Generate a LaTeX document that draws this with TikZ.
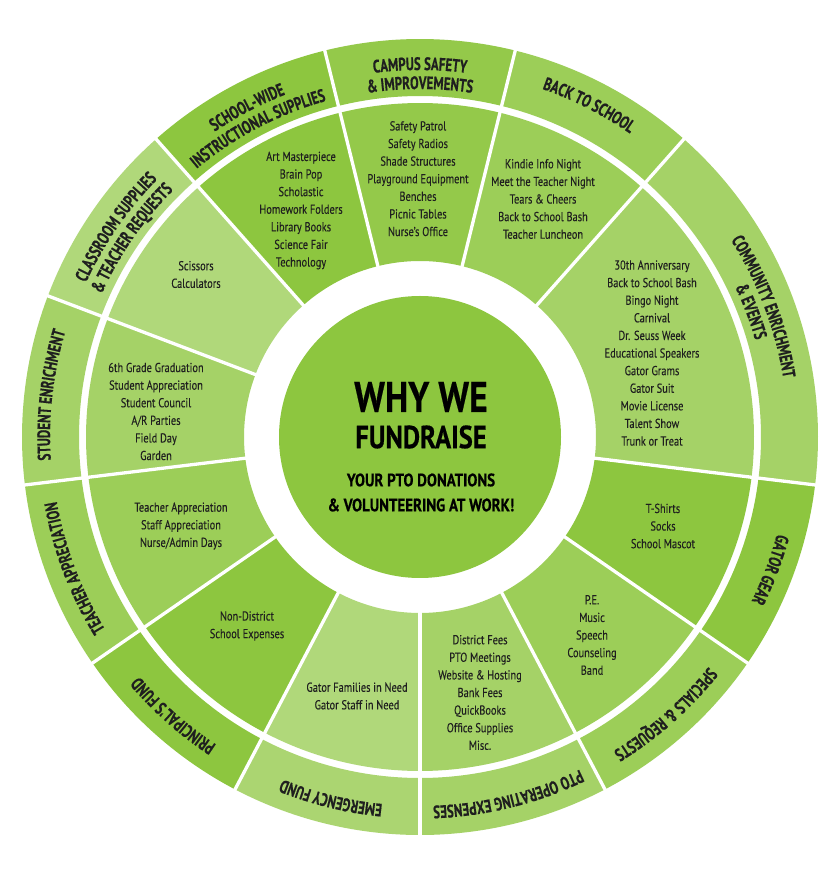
\documentclass[tikz,border=0pt]{standalone}
\usepackage{fontspec}
\usetikzlibrary{decorations.text}
\newfontfamily\listfont[FakeStretch=0.8,FakeBold=0.15]{PT Sans}
\newfontfamily\headfont[FakeStretch=0.71,BoldFeatures={FakeBold=0.45}]{PT Sans}
\newfontfamily\midfont[FakeStretch=0.83,BoldFeatures={FakeBold=0.4}]{PT Sans}
\definecolor{G}{RGB}{141,198,63}
\colorlet{g100}{G}
\colorlet{g95}{G!94!white}
\colorlet{g90}{G!87!white}
\colorlet{g80}{G!79!white}
\colorlet{g75}{G!74!white}
\colorlet{g70}{G!69!white}
\colorlet{ink}{black!88}
\newcommand\lblfont{\headfont\bfseries\fontsize{18}{18}\selectfont}
% annular sector: colour, angle1, angle2, inner r, outer r
\newcommand\annsec[5]{\fill[#1] ({#2}:#4) arc[start angle={#2},end angle={#3},radius=#4] -- ({#3}:#5) arc[start angle={#3},end angle={#2},radius=#5] -- cycle;}
% curved label: mid angle, baseline radius, text
\newcommand\arclabel[3]{\path[decorate,decoration={text along path,text align=center,text color=ink,text={|\lblfont|#3}}] ({#1+24}:#2) arc[start angle={#1+24},end angle={#1-24},radius=#2];}
\tikzset{
  listtxt/.style={align=center,text=ink,font=\listfont\fontsize{13}{17.6}\selectfont,inner sep=0pt},
  midtxt/.style={text=black,inner sep=0pt,align=center},
  divider/.style={white,line width=3.3pt},
}
\begin{document}
\begin{tikzpicture}[x=1pt,y=1pt]
\useasboundingbox (0,0) rectangle (840,879);
\fill[white] (0,0) rectangle (840,879);
\begin{scope}[shift={(420,442)}]
% outer label ring
\annsec{g80}{-90}{-62.3077}{341pt}{398pt}
\annsec{g90}{-62.3077}{-34.6154}{341pt}{398pt}
\annsec{g100}{-34.6154}{-6.9231}{341pt}{398pt}
\annsec{g80}{-6.9231}{48.4615}{341pt}{398pt}
\annsec{g90}{48.4615}{76.1538}{341pt}{398pt}
\annsec{g95}{76.1538}{103.8462}{341pt}{398pt}
\annsec{g100}{103.8462}{131.5385}{341pt}{398pt}
\annsec{g70}{131.5385}{159.2308}{341pt}{398pt}
\annsec{g80}{159.2308}{186.9231}{341pt}{398pt}
\annsec{g90}{186.9231}{214.6154}{341pt}{398pt}
\annsec{g100}{214.6154}{242.3077}{341pt}{398pt}
\annsec{g75}{242.3077}{270}{341pt}{398pt}
% inner ring
\annsec{g80}{-90}{-62.3077}{176pt}{334pt}
\annsec{g90}{-62.3077}{-34.6154}{176pt}{334pt}
\annsec{g100}{-34.6154}{-6.9231}{176pt}{334pt}
\annsec{g80}{-6.9231}{48.4615}{176pt}{334pt}
\annsec{g90}{48.4615}{76.1538}{176pt}{334pt}
\annsec{g95}{76.1538}{103.8462}{176pt}{334pt}
\annsec{g100}{103.8462}{131.5385}{176pt}{334pt}
\annsec{g70}{131.5385}{159.2308}{176pt}{334pt}
\annsec{g80}{159.2308}{186.9231}{176pt}{334pt}
\annsec{g90}{186.9231}{214.6154}{176pt}{334pt}
\annsec{g100}{214.6154}{242.3077}{176pt}{334pt}
\annsec{g70}{242.3077}{270}{176pt}{334pt}
% dividers
\foreach \a in {-90,-62.3077,-34.6154,-6.9231,48.4615,76.1538,103.8462,131.5385,159.2308,186.9231,214.6154,242.3077}
  \draw[divider] (\a:170pt) -- (\a:399pt);
% centre
\fill[G] (0,0) circle[radius=141pt];
% labels
\arclabel{90}{367pt}{CAMPUS SAFETY}
\arclabel{90}{348pt}{{\&} IMPROVEMENTS}
\arclabel{63}{369pt}{BACK TO SCHOOL}
\arclabel{20.7692}{368pt}{COMMUNITY ENRICHMENT}
\arclabel{20.7692}{349pt}{{\&} EVENTS}
\arclabel{-20.7692}{370pt}{GATOR GEAR}
\arclabel{-48.4615}{369pt}{SPECIALS {\&} REQUESTS}
\arclabel{-76.1538}{369pt}{PTO OPERATING EXPENSES}
\arclabel{-103.8462}{369pt}{EMERGENCY FUND}
\arclabel{-131.5385}{369pt}{PRINCIPAL’S FUND}
\arclabel{-159.2308}{369pt}{TEACHER APPRECIATION}
\arclabel{173.5}{370pt}{STUDENT ENRICHMENT}
\arclabel{145.3846}{368pt}{CLASSROOM SUPPLIES}
\arclabel{145.3846}{349pt}{{\&} TEACHER REQUESTS}
\arclabel{117.6923}{368pt}{SCHOOL-WIDE}
\arclabel{117.6923}{349pt}{INSTRUCTIONAL SUPPLIES}
\end{scope}
% centre texts
\node[midtxt,font=\midfont\bfseries\fontsize{43}{43}\selectfont] (why) at (421,482) {WHY WE};
\node[midtxt,font=\midfont\bfseries\fontsize{32}{32}\selectfont] (fund) at (421,442) {FUNDRAISE};
\node[midtxt,font=\midfont\bfseries\fontsize{18}{25}\selectfont] (pto) at (421,386.5) {YOUR PTO DONATIONS\\\& VOLUNTEERING AT WORK!};
% lists
\node[listtxt] (safety) at (418,700.3) {Safety Patrol\\Safety Radios\\Shade Structures\\Playground Equipment\\Benches\\Picnic Tables\\Nurse’s Office};
\node[listtxt] (kindie) at (543,680) {Kindie Info Night\\Meet the Teacher Night\\Tears \& Cheers\\Back to School Bash\\Teacher Luncheon};
\node[listtxt] (events) at (652,526) {30th Anniversary\\Back to School Bash\\Bingo Night\\Carnival\\Dr. Seuss Week\\Educational Speakers\\Gator Grams\\Gator Suit\\Movie License\\Talent Show\\Trunk or Treat};
\node[listtxt] (gear) at (663,353) {T-Shirts\\Socks\\School Mascot};
\node[listtxt] (specials) at (592,244) {P.E.\\Music\\Speech\\Counseling\\Band};
\node[listtxt] (ops) at (480,186.5) {District Fees\\PTO Meetings\\Website \& Hosting\\Bank Fees\\QuickBooks\\Office Supplies\\Misc.};
\node[listtxt] (need) at (357,183) {Gator Families in Need\\Gator Staff in Need};
\node[listtxt] (nondist) at (247,253) {Non-District\\School Expenses};
\node[listtxt] (teach) at (181,353) {Teacher Appreciation\\Staff Appreciation\\Nurse/Admin Days};
\node[listtxt] (student) at (156,467.5) {6th Grade Graduation\\Student Appreciation\\Student Council\\A/R Parties\\Field Day\\Garden};
\node[listtxt] (class) at (196,604.5) {Scissors\\Calculators};
\node[listtxt] (art) at (301,668.5) {Art Masterpiece\\Brain Pop\\Scholastic\\Homework Folders\\Library Books\\Science Fair\\Technology};
\end{tikzpicture}
\end{document}
